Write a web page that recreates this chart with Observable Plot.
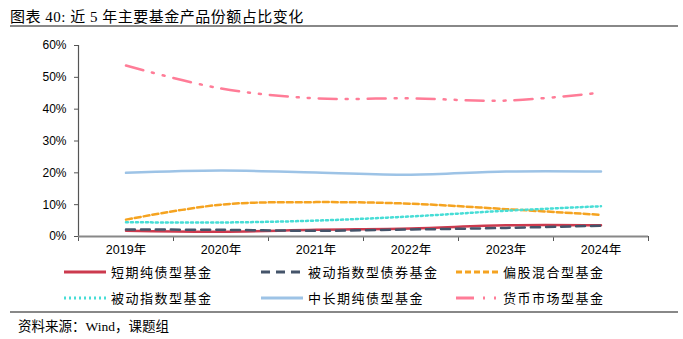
<!DOCTYPE html>
<html><head><meta charset="utf-8">
<script src="https://cdn.jsdelivr.net/npm/d3@7"></script>
<script src="https://cdn.jsdelivr.net/npm/@observablehq/plot@0.6"></script>
<style>
body{margin:0;background:#fff;}
#wrap{position:relative;width:683px;height:339px;font-family:"Liberation Serif","Noto Sans CJK SC",serif;color:#000;}
#title{position:absolute;left:10px;top:5px;font-size:15px;letter-spacing:0.5px;}
.hr{position:absolute;left:10px;width:668px;height:0;border-top:2px solid #888;}
#chart{position:absolute;left:0;top:30px;}
#legend{position:absolute;left:0;top:262px;width:683px;}
.li{position:absolute;font-size:13px;letter-spacing:1.5px;font-family:"Noto Sans CJK SC",sans-serif;}
.li svg{position:absolute;}
#cap{position:absolute;left:18px;top:315px;font-size:13.5px;}
</style></head>
<body><div id="wrap">
<div id="title">图表 40: 近 5 年主要基金产品份额占比变化</div>
<div class="hr" style="top:25px"></div>
<div id="chart"></div>
<div id="legend"></div>
<div class="hr" style="top:311px"></div>
<div id="cap">资料来源：Wind，课题组</div>
</div>
<script>
const years = [2019, 2020, 2021, 2022, 2023, 2024];
const seriesNames = ["短期纯债型基金","被动指数型债券基金","偏股混合型基金","被动指数型基金","中长期纯债型基金","货币市场型基金"];
const shortBond   = [1.8, 1.5, 2.1, 2.5, 3.5, 3.5];
const passiveBond = [2.2, 2.1, 1.8, 2.2, 2.7, 3.4];
const mixedEquity = [5.3, 10.0, 10.8, 10.3, 8.6, 6.8];
const passiveIdx  = [4.5, 4.4, 5.0, 6.3, 8.1, 9.5];
const midLongBond = [20.0, 20.7, 20.1, 19.4, 20.4, 20.4];
const moneyMarket = [53.7, 46.5, 43.4, 43.4, 42.7, 45.2];
const yTicks = [0, 10, 20, 30, 40, 50, 60];

const allValues = [shortBond, passiveBond, mixedEquity, passiveIdx, midLongBond, moneyMarket];
const styles = [
  {color:"#CC3A4E", dash:null, w:2.5},
  {color:"#44546A", dash:"9,6", w:2.5},
  {color:"#F5A320", dash:"6,3", w:2.5},
  {color:"#47DDD6", dash:"2,3", w:2.5},
  {color:"#9DC3E6", dash:null, w:2.5},
  {color:"#FF7C97", dash:"18,9,2,9,2,9", w:2.5}
];
const rows = [];
seriesNames.forEach((s,i)=>years.forEach((y,j)=>rows.push({series:s, year:y, value:allValues[i][j]})));
const bounds = d3.range(years[0]-0.5, years[years.length-1]+1, 1);

const marks = [
  Plot.axisY({ticks: yTicks, label:null, tickFormat: d=>d+"%", tickSize:4, tickPadding:8, fontSize:12, fontFamily:"Liberation Sans, Arial, sans-serif", stroke:"#555", color:"#000"}),
  Plot.axisX({ticks: years, label:null, tickSize:0, tickPadding:9, tickFormat: d=>d+"年", fontSize:12.5, fontFamily:"Liberation Sans, Noto Sans CJK SC, sans-serif"}),
  Plot.axisX({ticks: bounds, label:null, tickSize:5, tickFormat: ()=>"", stroke:"#555"}),
  Plot.ruleX([bounds[0]], {y1:0, y2:60, stroke:"#555", strokeWidth:1.2}),
  Plot.ruleY([0], {stroke:"#888", strokeWidth:1.8}),
];
seriesNames.forEach((s,i)=>{
  const st = styles[i];
  marks.push(Plot.line(rows.filter(r=>r.series===s), {x:"year", y:"value", stroke:st.color, strokeWidth:st.w, strokeDasharray:st.dash, curve:"catmull-rom"}));
});
const chart = Plot.plot({
  width:683, height:235,
  marginLeft:78, marginRight:35, marginTop:15, marginBottom:29,
  x:{domain:[bounds[0], bounds[bounds.length-1]], axis:null, label:null},
  y:{domain:[0,60], axis:null, label:null},
  style:{background:"transparent", overflow:"visible"},
  marks
});
document.getElementById("chart").appendChild(chart);

const legPos = [[63,0],[260,0],[455,0],[63,26],[260,26],[455,26]];
const leg = document.getElementById("legend");
seriesNames.forEach((s,i)=>{
  const st = styles[i];
  const d = document.createElement("div");
  d.className="li";
  d.style.left = legPos[i][0]+"px"; d.style.top = legPos[i][1]+"px";
  d.innerHTML = `<svg width="44" height="20" style="left:0;top:0"><line x1="1" x2="43" y1="10" y2="10" stroke="${st.color}" stroke-width="${st.w+0.5}" ${st.dash?`stroke-dasharray="${st.dash}"`:""}/></svg><span style="position:absolute;left:48px;top:0;white-space:nowrap;line-height:20px">${s}</span>`;
  leg.appendChild(d);
});
</script>
</body></html>
